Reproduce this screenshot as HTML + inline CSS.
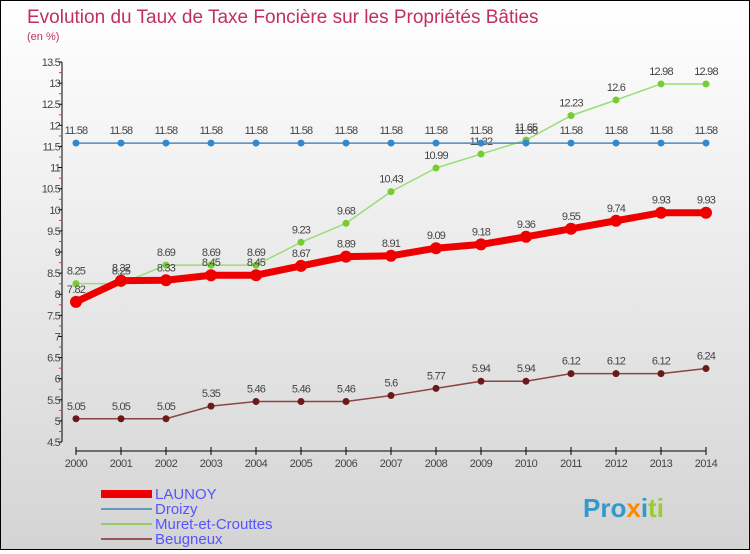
<!DOCTYPE html>
<html><head><meta charset="utf-8"><style>
html,body{margin:0;padding:0}
body{width:750px;height:550px;overflow:hidden;font-family:"Liberation Sans",sans-serif}
#wrap{position:relative;width:748px;height:548px;border:1px solid #000;background:linear-gradient(#ffffff,#d4d4d4)}
</style></head><body>
<div id="wrap">
<svg id="chart" width="748" height="548" xmlns="http://www.w3.org/2000/svg">
<text x="26" y="22" font-size="19" fill="#c0305a">Evolution du Taux de Taxe Foncière sur les Propriétés Bâties</text>
<text x="26" y="39" font-size="11" fill="#c0305a">(en %)</text>
<g id="axes"></g>
<g id="series"></g>
<g id="legend">
<rect x="100" y="489" width="51" height="8" fill="#ee0000"/>
<text x="154" y="498" font-size="15" fill="#5555ff">LAUNOY</text>
<rect x="100" y="507" width="51" height="2" fill="#6699bb"/>
<text x="154" y="513" font-size="15" fill="#5555ff">Droizy</text>
<rect x="100" y="522" width="51" height="2" fill="#99cc66"/>
<text x="154" y="528" font-size="15" fill="#5555ff">Muret-et-Crouttes</text>
<rect x="100" y="537" width="51" height="2" fill="#995555"/>
<text x="154" y="543" font-size="15" fill="#5555ff">Beugneux</text>
</g>
<text x="582" y="516" font-size="26" font-weight="bold" fill="#3399cc">Pro<tspan fill="#ff8800">x</tspan><tspan fill="#3399cc">i</tspan><tspan fill="#99cc33">ti</tspan></text>
</svg>
</div>
<script>
const years=[2000,2001,2002,2003,2004,2005,2006,2007,2008,2009,2010,2011,2012,2013,2014];
const launoy=[7.82,8.32,8.33,8.45,8.45,8.67,8.89,8.91,9.09,9.18,9.36,9.55,9.74,9.93,9.93];
const droizy=[11.58,11.58,11.58,11.58,11.58,11.58,11.58,11.58,11.58,11.58,11.58,11.58,11.58,11.58,11.58];
const muret=[8.25,8.25,8.69,8.69,8.69,9.23,9.68,10.43,10.99,11.32,11.65,12.23,12.6,12.98,12.98];
const beugneux=[5.05,5.05,5.05,5.35,5.46,5.46,5.46,5.6,5.77,5.94,5.94,6.12,6.12,6.12,6.24];
const yTicks=[4.5,5,5.5,6,6.5,7,7.5,8,8.5,9,9.5,10,10.5,11,11.5,12,12.5,13,13.5];
const NS="http://www.w3.org/2000/svg";
const yMin=4.5,yMax=13.5,yTop=61,yBot=441;
function sy(v){return yBot-(v-yMin)/(yMax-yMin)*(yBot-yTop);}
function sx(i){return 75+i*45;}
function mk(tag,attrs,parent){const e=document.createElementNS(NS,tag);for(const k in attrs)e.setAttribute(k,attrs[k]);parent.appendChild(e);return e;}
const axes=document.getElementById('axes');
let e=mk('line',{x1:61,y1:yTop,x2:61,y2:yBot,stroke:'#000'},axes);


e=mk('line',{x1:75,y1:450,x2:705,y2:450,stroke:'#000'},axes);


yTicks.forEach((t,i)=>{
  const y=sy(t);
  mk('line',{x1:57,y1:y,x2:61,y2:y,stroke:'#000'},axes);
  if(i<yTicks.length-1) mk('line',{x1:58,y1:y-10.5,x2:61,y2:y-10.5,stroke:'#e33'},axes);
  const tx=mk('text',{x:59,y:y+4,'font-size':11,fill:'#444','text-anchor':'end','letter-spacing':'-0.8'},axes);
  tx.textContent=String(t);
  
  
});
years.forEach((yr,i)=>{
  const x=sx(i);
  mk('line',{x1:x,y1:446,x2:x,y2:454,stroke:'#000'},axes);
  const tx=mk('text',{x:x,y:466,'font-size':11,fill:'#444','text-anchor':'middle','letter-spacing':'-0.5'},axes);
  tx.textContent=String(yr);
  
  
});
const ser=document.getElementById('series');
function draw(vals,name,color,pt,width,r){
  const g=mk('g',{},ser);
  
  
  const p=mk('polyline',{points:vals.map((v,i)=>sx(i)+','+sy(v)).join(' '),fill:'none',stroke:color,'stroke-width':width,'stroke-linejoin':'round'},g);
  
  
  vals.forEach((v,i)=>{
    const c=mk('circle',{cx:sx(i),cy:sy(v),r:r,fill:pt},g);
    
    
    const t=mk('text',{x:sx(i),y:sy(v)-9,'font-size':11,fill:'#444','text-anchor':'middle','letter-spacing':'-0.8'},g);
    t.textContent=String(v);
    
    
  });
}
draw(beugneux,'beugneux','#8b4545','#6b1a1a',1.5,3.5);
draw(muret,'muret-et-crouttes','#99dd77','#77cc33',1.5,3.5);
draw(droizy,'droizy','#5588bb','#3388cc',1.5,3.5);
draw(launoy,'launoy','#ee0000','#ee0000',7,6);
</script>
</body></html>
